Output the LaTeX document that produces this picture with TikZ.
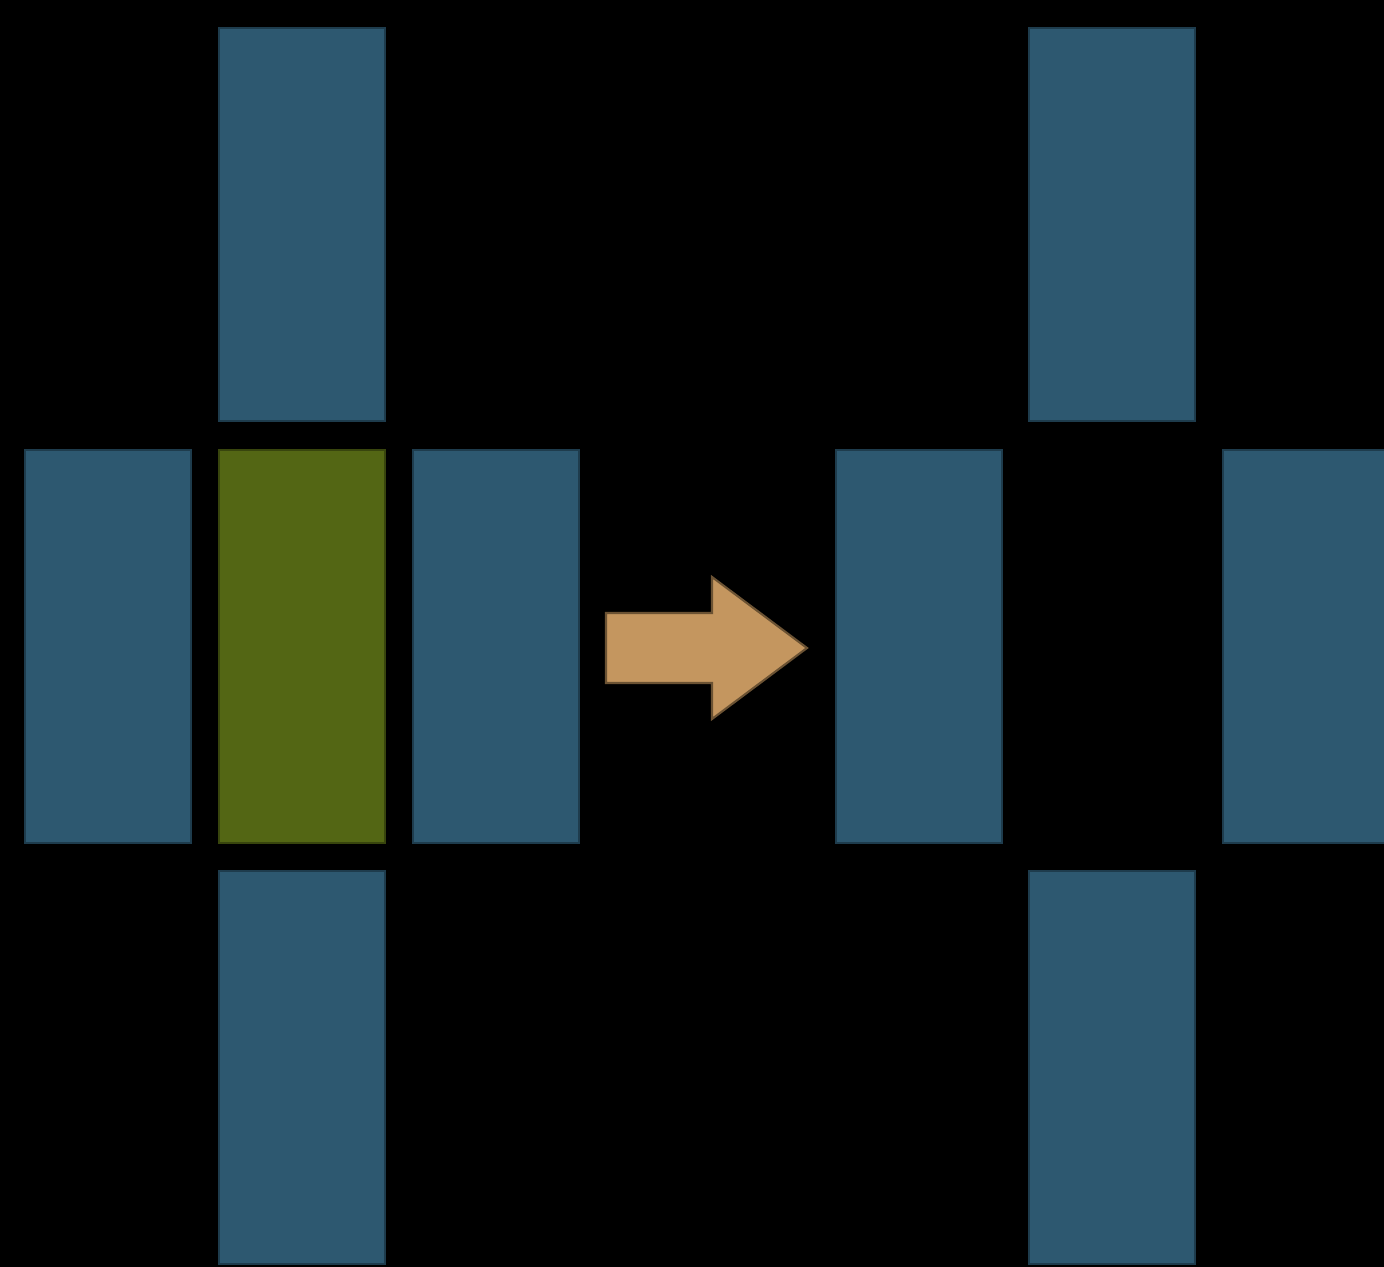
\documentclass[tikz,border=0pt]{standalone}
\usepackage{tikz}
\usepackage{xcolor}
\definecolor{tileBlue}{HTML}{2D5870}
\definecolor{tileBlueEdge}{HTML}{1E3C4D}
\definecolor{tileGreen}{HTML}{536614}
\definecolor{tileGreenEdge}{HTML}{38450D}
\definecolor{arrowTan}{HTML}{C4965F}
\definecolor{arrowTanEdge}{HTML}{6B5233}

\begin{document}
\begin{tikzpicture}[x=0.01cm,y=-0.01cm]
    \pgfmathsetmacro{\w}{166}
    \pgfmathsetmacro{\h}{393}
    \tikzset{
        tile/.pic={
            \filldraw[tileBlue,draw=tileBlueEdge,line width=0.6pt] (0,0) --++(\w,0)--++(0,\h)--++(-\w,0)--cycle;
        },
        greentile/.pic={
            \filldraw[tileGreen,draw=tileGreenEdge,line width=0.6pt] (0,0) --++(\w,0)--++(0,\h)--++(-\w,0)--cycle;
        }
    };
    \fill[black] (0,0) rectangle (1384,1267);
    \useasboundingbox (0,0) rectangle (1384,1267);
    \clip (0,0) rectangle (1384,1267);
    % before: cross with green centre
    \foreach \row in {28,871}{
        \draw (219,\row) pic {tile};}
    \foreach \col in {25,413}{
        \draw (\col,450) pic {tile};}
    \draw (219,450) pic {greentile};
    % arrow
    \filldraw[arrowTan,draw=arrowTanEdge,line width=0.6pt] (606,613) -- (712,613) -- (712,577) -- (807,648) -- (712,719) -- (712,683) -- (606,683) -- cycle;
    % after: centre removed
    \foreach \row in {28,871}{
        \draw (1029,\row) pic {tile};}
    \foreach \col in {836,1223}{
        \draw (\col,450) pic {tile};}
\end{tikzpicture}
\end{document}
